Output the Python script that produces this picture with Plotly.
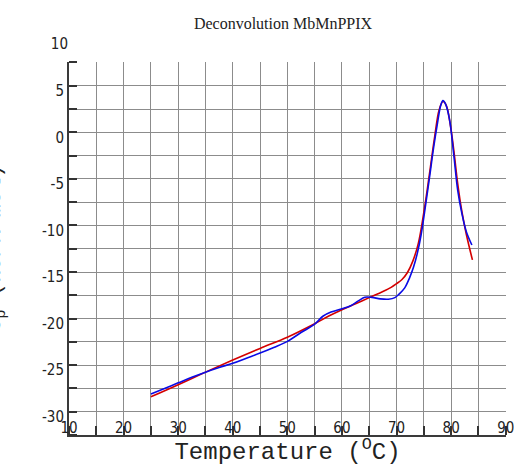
import plotly.graph_objects as go

# Experimental (blue) curve
exp_T = [25, 27.5, 30, 32.5, 35, 37.5, 40, 42.5, 45, 47.5, 50, 52.5, 55, 56.5, 58, 60,
         61.5, 63, 64.2, 65.5, 67, 68.5, 69.7, 70.5, 71.5, 72.4, 73.1, 73.8, 74.5, 75.2,
         76, 76.8, 77.5, 78.1, 78.5, 79, 79.7, 80.5, 81.2, 82, 82.8, 83.8]
exp_Cp = [-28.1, -27.5, -26.9, -26.3, -25.75, -25.25, -24.8, -24.25, -23.7, -23.1, -22.45,
          -21.5, -20.6, -19.75, -19.3, -18.95, -18.65, -18.1, -17.7, -17.72, -17.88, -17.92,
          -17.75, -17.35, -16.7, -15.6, -14.5, -13.0, -11.0, -8.3, -5.0, -1.6, 1.0, 2.9,
          3.4, 3.0, 1.4, -2.5, -6.2, -8.8, -10.7, -12.1]

# Fit (red) curve
fit_T = [25, 30, 35, 40, 45, 50, 55, 57.5, 60, 62.5, 65, 67.5, 69, 70, 71, 72, 73, 74,
         75, 76, 77, 77.8, 78.5, 79.1, 79.8, 80.5, 81.2, 82, 82.8, 83.9]
fit_Cp = [-28.4, -27.1, -25.75, -24.45, -23.2, -22.0, -20.55, -19.75, -19.05, -18.4,
          -17.75, -17.1, -16.65, -16.25, -15.8, -15.05, -13.8, -11.9, -8.6, -4.6, -0.4,
          2.4, 3.3, 2.9, 1.0, -2.0, -5.5, -8.6, -11.0, -13.7]

x_ticks = [10, 20, 30, 40, 50, 60, 70, 80, 90]
x_tick_labels = ["10", "20", "30", "40", "50", "60", "70", "80", "90"]
y_ticks = [-30, -25, -20, -15, -10, -5, 0, 5]
y_tick_labels = ["-30", "-25", "-20", "-15", "-10", "-5", "0", "5"]
y_top_tick = [10]
y_top_label = ["10"]

title_text = "Deconvolution MbMnPPIX"
x_title = "Temperature (<sup>O</sup>C)"
y_title = "C<sub>p</sub> (kJ/K mol)"

tick_font = dict(family="DejaVu Sans Condensed, Liberation Sans Narrow, sans-serif",
                 size=15, color="#222222")
grid_col = "#8c8c8c"

L, R, T, B = 69, 8, 30, 31
W, H = 514, 466
plot_h = H - T - B
main_top = (435 - 62) / plot_h

fig = go.Figure()
fig.add_trace(go.Scatter(x=fit_T, y=fit_Cp, mode="lines", line=dict(color="#d40000", width=1.6, shape="spline"),
                         showlegend=False, hoverinfo="skip"))
fig.add_trace(go.Scatter(x=exp_T, y=exp_Cp, mode="lines", line=dict(color="#0a0ae6", width=1.6, shape="spline"),
                         showlegend=False, hoverinfo="skip"))
# empty trace to create the small upper axis holding the "10" label
fig.add_trace(go.Scatter(x=[None], y=[None], xaxis="x2", yaxis="y2", showlegend=False, hoverinfo="skip"))

fig.update_layout(
    width=W, height=H,
    margin=dict(l=L, r=R, t=T, b=B, autoexpand=False),
    paper_bgcolor="white", plot_bgcolor="white",
    title=dict(text=title_text, x=283 / W, xanchor="center", y=1 - 23 / H, yanchor="middle",
               font=dict(family="Liberation Serif, serif", size=16, color="#222222")),
    xaxis=dict(range=[10, 90.05], domain=[0, 1], tickmode="array", tickvals=x_ticks, ticktext=x_tick_labels,
               showgrid=True, gridcolor=grid_col, gridwidth=1, automargin=False,
               showline=True, linecolor="#3a3a3a", linewidth=2, ticklabeloverflow="allow",
               ticks="", tickfont=tick_font, ticklabelstandoff=-22,
               minor=dict(dtick=5, tick0=10, showgrid=True, gridcolor=grid_col, gridwidth=1,
                          ticks="inside", ticklen=9, tickcolor="#333333", tickwidth=1.5),
               zeroline=False, anchor="y",
               title=dict(text=x_title, standoff=10,
                          font=dict(family="Liberation Mono, Courier New, monospace", size=24, color="#222222"))),
    yaxis=dict(range=[-32.5, 7.55], domain=[0, main_top], tickmode="array", tickvals=y_ticks, ticktext=y_tick_labels,
               showgrid=True, gridcolor=grid_col, gridwidth=1, automargin=False,
               showline=True, linecolor="#3a3a3a", linewidth=2, ticklabeloverflow="allow",
               ticks="", tickfont=tick_font, ticklabelshift=5,
               minor=dict(dtick=2.5, tick0=-32.5, showgrid=True, gridcolor=grid_col, gridwidth=1,
                          ticks="inside", ticklen=8, tickcolor="#333333", tickwidth=1.5),
               zeroline=False, anchor="x"),
    xaxis2=dict(range=[10, 90], domain=[0, 1], visible=False, anchor="y2", showgrid=False, automargin=False),
    yaxis2=dict(range=[7.55, 7.55 + 32 / 9.325], domain=[main_top, 1], anchor="x2", automargin=False,
                tickmode="array", tickvals=y_top_tick, ticktext=y_top_label, showgrid=False, showline=False,
                zeroline=False, ticks="", tickfont=tick_font, ticklabelshift=5, ticklabeloverflow="allow"),
    annotations=[dict(text=y_title, xref="paper", yref="paper", x=(12 - L) / (W - L - R), y=(435 - 248) / plot_h,
                      xanchor="right", yanchor="middle", textangle=-90, showarrow=False,
                      font=dict(family="Liberation Mono, Courier New, monospace", size=22, color="#222222"))],
)

fig.write_html("out.html", config={"displayModeBar": False},
               post_script="document.body.style.margin='0px';document.documentElement.style.overflow='hidden';")
